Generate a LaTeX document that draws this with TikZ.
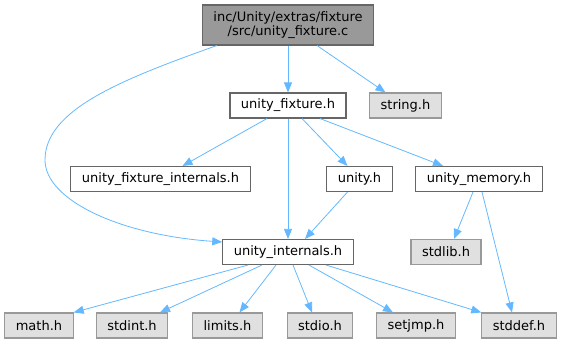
\documentclass[tikz,border=0pt]{standalone}
\usepackage{fontspec}
\setmainfont{DejaVu Sans}
\usetikzlibrary{arrows.meta}

\definecolor{edgeblue}{HTML}{63B8FF}
\definecolor{rootfill}{HTML}{999999}
\definecolor{sysfill}{HTML}{E0E0E0}

\tikzset{
    hdr/.style={draw=black!60, line width=1.1pt, fill=white, minimum height=25pt,
        inner xsep=11pt, font=\fontsize{13}{14.5}\selectfont},
    syshdr/.style={hdr, draw=rootfill, fill=sysfill},
    srcfile/.style={hdr, fill=rootfill, minimum height=40pt, align=center},
    dep/.style={draw=edgeblue, line width=0.8pt, -{Triangle[length=10pt,width=8pt]}}
}

\begin{document}
\begin{tikzpicture}[x=1pt,y=-1pt]
        \useasboundingbox (0,0) rectangle (562,344);
        % the file and the headers it pulls in
        \node[srcfile] (src) at (288,25) {inc/Unity/extras/fixture\\/src/unity\_fixture.c};
        \node[hdr] (ufix) at (288,105.5) {unity\_fixture.h};
        \node[syshdr] (string) at (405.5,105.5) {string.h};
        \node[hdr] (ufixint) at (160.5,179) {unity\_fixture\_internals.h};
        \node[hdr] (unity) at (359.5,179) {unity.h};
        \node[hdr] (umem) at (479,179) {unity\_memory.h};
        \node[hdr] (uint) at (288,252) {unity\_internals.h};
        \node[syshdr] (stdlib) at (446,252) {stdlib.h};
        \node[syshdr] (math) at (39,325.5) {math.h};
        \node[syshdr] (stdint) at (132,325.5) {stdint.h};
        \node[syshdr] (limits) at (227.5,325.5) {limits.h};
        \node[syshdr] (stdio) at (320,325.5) {stdio.h};
        \node[syshdr] (setjmp) at (416,325.5) {setjmp.h};
        \node[syshdr] (stddef) at (519,325.5) {stddef.h};

        % includes
        \draw[dep] (src) -- (ufix);
        \draw[dep] ([xshift=29pt]src.south) -- ([xshift=-20pt]string.north);
        \draw[dep] ([xshift=15pt]src.south west) .. controls (120,80) and (45,110) .. (45,160)
            .. controls (45,200) and (120,235) .. ([yshift=10pt]uint.west);
        \draw[dep] ([xshift=-21pt]ufix.south) -- ([xshift=22pt]ufixint.north);
        \draw[dep] (ufix) -- (uint);
        \draw[dep] ([xshift=14pt]ufix.south) -- ([xshift=-12pt]unity.north);
        \draw[dep] ([xshift=32pt]ufix.south) -- ([xshift=-36pt]umem.north);
        \draw[dep] ([xshift=-12pt]unity.south) -- ([xshift=17pt]uint.north);
        \draw[dep] ([xshift=-6pt]umem.south) -- ([xshift=8pt]stdlib.north);
        \draw[dep] ([xshift=3pt]umem.south) -- ([xshift=-7pt]stddef.north);
        \draw[dep] ([xshift=-40pt]uint.south) -- (math.north east);
        \draw[dep] ([xshift=-26pt]uint.south) -- ([xshift=28pt]stdint.north);
        \draw[dep] ([xshift=-12pt]uint.south) -- ([xshift=12pt]limits.north);
        \draw[dep] ([xshift=5pt]uint.south) -- ([xshift=-8pt]stdio.north);
        \draw[dep] ([xshift=21pt]uint.south) -- ([xshift=-23pt]setjmp.north);
        \draw[dep] ([xshift=38pt]uint.south) -- (stddef.north west);
    \end{tikzpicture}
\end{document}
